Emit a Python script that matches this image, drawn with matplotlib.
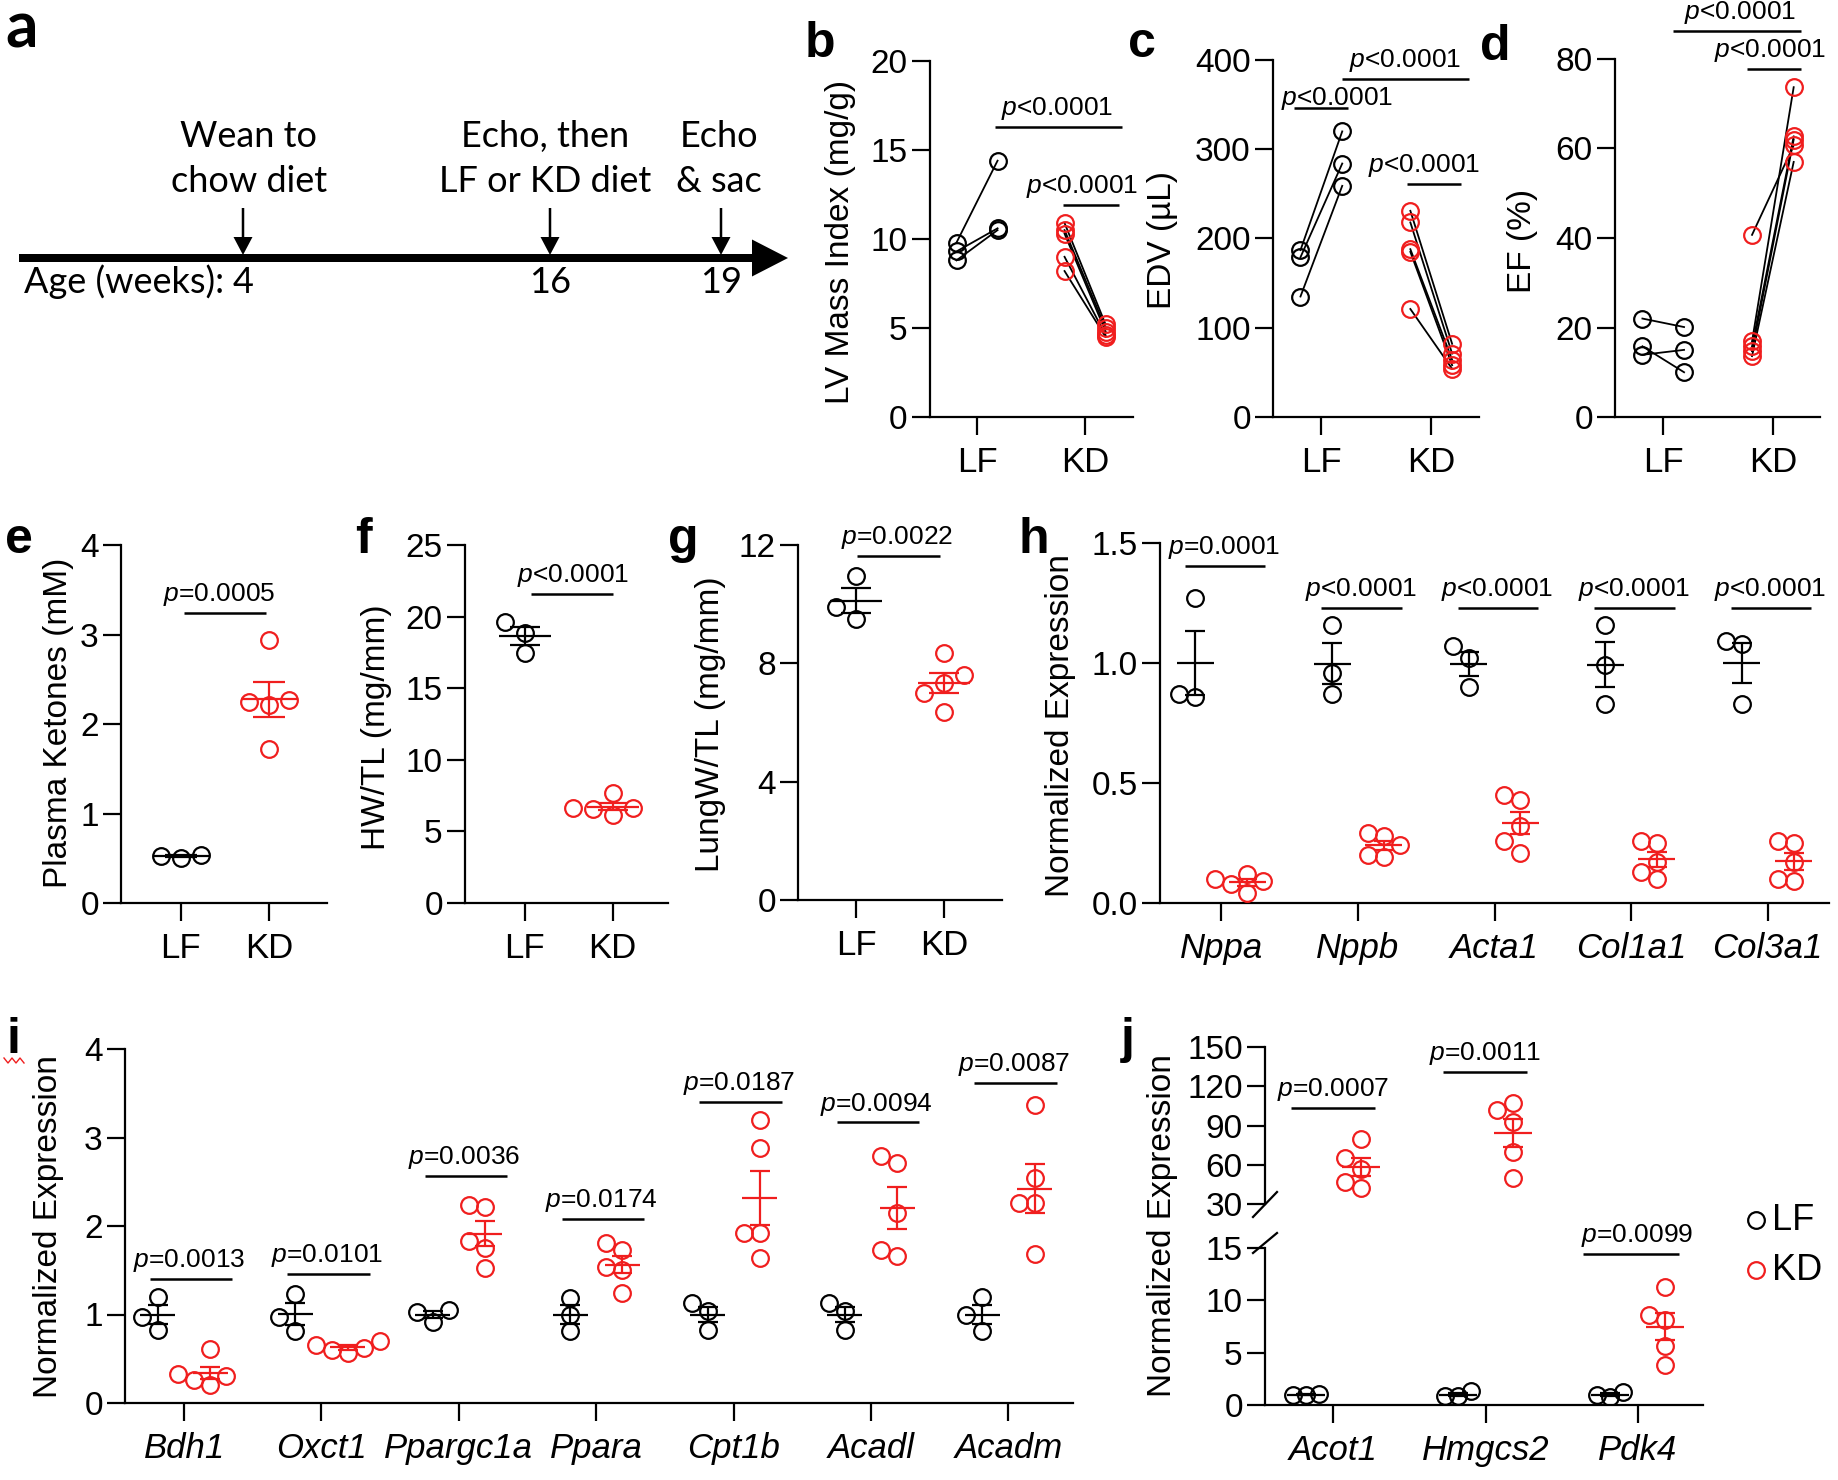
import numpy as np
import matplotlib
matplotlib.use('Agg')
import matplotlib.pyplot as plt
from matplotlib.patches import FancyArrow

plt.rcParams['font.family'] = ['Liberation Sans', 'DejaVu Sans']
plt.rcParams['mathtext.fontset'] = 'custom'
plt.rcParams['mathtext.it'] = 'Liberation Sans:italic'
plt.rcParams['mathtext.rm'] = 'Liberation Sans'
plt.rcParams['mathtext.default'] = 'regular'

W, H, DPI = 1838, 1480, 100
RED = '#f01e1e'

# ---------------- data ----------------
groups = ['LF', 'KD']
timeline_ages = ['4', '16', '19']
timeline_events = ['Wean to\nchow diet', 'Echo, then\nLF or KD diet', 'Echo\n& sac']

# b: LV mass index (pre, post) paired
b_lf_pre = [9.8, 9.3, 8.8]
b_lf_post = [14.4, 10.6, 10.5]
b_kd_pre = [10.9, 10.5, 10.3, 9.0, 8.2]
b_kd_post = [5.2, 5.0, 4.8, 4.6, 4.5]
# c: EDV
c_lf_pre = [187, 179, 135]
c_lf_post = [320, 284, 259]
c_kd_pre = [231, 218, 188, 185, 121]
c_kd_post = [82, 71, 64, 58, 54]
# d: EF
d_lf_pre = [22.0, 15.8, 13.9]
d_lf_post = [20.1, 10.0, 15.0]
d_kd_pre = [40.7, 16.9, 15.8, 14.7, 13.6]
d_kd_post = [60.7, 73.7, 62.7, 62.0, 57.0]

# e, f, g
e_lf = [0.50, 0.53, 0.54]
e_kd = [2.94, 2.27, 2.21, 2.25, 1.72]
f_lf = [19.65, 18.84, 17.44]
f_kd = [7.67, 6.16, 6.63, 6.63, 6.56]
g_lf = [10.95, 9.49, 9.92]
g_kd = [8.36, 7.32, 7.60, 6.99, 6.37]

# h
h_genes = ['Nppa', 'Nppb', 'Acta1', 'Col1a1', 'Col3a1']
h_lf = [[1.27, 0.87, 0.86], [1.16, 0.96, 0.87], [1.07, 1.02, 0.90],
        [1.16, 0.99, 0.83], [1.08, 1.09, 0.83]]
h_kd = [[0.12, 0.10, 0.09, 0.08, 0.04], [0.28, 0.29, 0.19, 0.20, 0.24],
        [0.43, 0.45, 0.32, 0.21, 0.26], [0.26, 0.25, 0.17, 0.13, 0.10],
        [0.26, 0.25, 0.17, 0.09, 0.10]]
h_pval = ['=0.0001', '<0.0001', '<0.0001', '<0.0001', '<0.0001']
h_pbar = [1.404, 1.229, 1.229, 1.229, 1.229]

# i
i_genes = ['Bdh1', 'Oxct1', 'Ppargc1a', 'Ppara', 'Cpt1b', 'Acadl', 'Acadm']
i_lf = [[1.20, 0.97, 0.83], [1.23, 0.97, 0.81], [0.92, 1.05, 1.03],
        [1.19, 1.00, 0.81], [1.13, 1.04, 0.83], [1.13, 1.04, 0.83],
        [1.20, 0.99, 0.81]]
i_kd = [[0.61, 0.33, 0.30, 0.26, 0.20], [0.70, 0.66, 0.62, 0.60, 0.56],
        [2.24, 2.22, 1.83, 1.75, 1.52], [1.81, 1.73, 1.54, 1.50, 1.24],
        [3.20, 2.88, 1.92, 1.92, 1.64], [2.79, 2.71, 2.15, 1.66, 1.73],
        [3.37, 2.54, 2.26, 2.26, 1.68]]
i_pval = ['=0.0013', '=0.0101', '=0.0036', '=0.0174', '=0.0187', '=0.0094', '=0.0087']
i_pbar = [1.40, 1.46, 2.57, 2.08, 3.40, 3.17, 3.62]

# j
j_genes = ['Acot1', 'Hmgcs2', 'Pdk4']
j_lf = [[0.95, 1.00, 1.05], [0.85, 1.30, 0.85], [0.80, 1.25, 0.95]]
j_kd = [[80, 65, 57, 47, 42], [107, 102, 93, 70, 50], [11.3, 8.6, 8.1, 5.6, 3.8]]
j_pval = ['=0.0007', '=0.0011', '=0.0099']
j_pbar = [103.6, 131.0, 14.46]

# ---------------- helpers ----------------
TICK_FS = 24
XT_FS = 25
LAB_FS = 24
P_FS = 19
MS, MEW = 12, 1.6
LW_AX = 1.6


def rect(x0, y0, x1, y1):
    return [x0 / W, 1 - y1 / H, (x1 - x0) / W, (y1 - y0) / H]


def style(ax, xlim, ylim, yticks, yticklabels=None, xticks=None, xlabels=None, italic=False):
    for s in ['top', 'right']:
        ax.spines[s].set_visible(False)
    for s in ['left', 'bottom']:
        ax.spines[s].set_linewidth(LW_AX)
    ax.patch.set_alpha(0)
    ax.set_xlim(*xlim)
    ax.set_ylim(*ylim)
    ax.set_yticks(yticks)
    if yticklabels is not None:
        ax.set_yticklabels(yticklabels)
    ax.tick_params(axis='y', length=13, width=LW_AX, pad=3, labelsize=TICK_FS)
    ax.tick_params(axis='x', length=13, width=LW_AX, pad=8, labelsize=XT_FS)
    if xticks is not None:
        ax.set_xticks(xticks)
        ax.set_xticklabels(xlabels, fontstyle='italic' if italic else 'normal')


def ptext(sym):
    return r'$\mathit{p}$' + sym


def pbar(ax, x0, x1, y, sym, xt=None, dy=8.6):
    ax.plot([x0, x1], [y, y], color='k', lw=1.8, clip_on=False, solid_capstyle='butt')
    xc = (x0 + x1) / 2 if xt is None else xt
    ax.annotate(ptext(sym), xy=(xc, y), xytext=(0, dy), textcoords='offset points',
                ha='center', va='baseline', fontsize=P_FS, annotation_clip=False)


def swarm_x(ax, xc, vals, dpx):
    tr = ax.transData
    ppu = tr.transform((1, 0))[0] - tr.transform((0, 0))[0]
    ys = [tr.transform((xc, v))[1] for v in vals]
    order = np.argsort(vals, kind='stable')
    cands = [0.0]
    for k in range(1, 8):
        cands += [-k * dpx, k * dpx]
    placed = []
    offs = np.zeros(len(vals))
    for i in order:
        for c in cands:
            if all(np.hypot(c - px, ys[i] - py) >= dpx * 0.999 for px, py in placed):
                offs[i] = c
                placed.append((c, ys[i]))
                break
    return xc + offs / ppu, ppu


def scatter_group(ax, xc, vals, color, dpx, hw_px, cw_px, clip=False):
    xs, ppu = swarm_x(ax, xc, vals, dpx)
    ax.plot(xs, vals, 'o', mfc='none', mec=color, ms=MS, mew=MEW, ls='none',
            clip_on=clip, zorder=3)
    m = np.mean(vals)
    s = np.std(vals, ddof=1) / np.sqrt(len(vals))
    hw, cw = hw_px / ppu, cw_px / ppu
    kw = dict(color=color, lw=1.6, clip_on=clip, zorder=4, solid_capstyle='butt')
    ax.plot([xc - hw, xc + hw], [m, m], **kw)
    ax.plot([xc, xc], [m - s, m + s], **kw)
    ax.plot([xc - cw, xc + cw], [m + s, m + s], **kw)
    ax.plot([xc - cw, xc + cw], [m - s, m - s], **kw)


def paired(ax, lf_pre, lf_post, kd_pre, kd_post, off=0.19):
    for gi, (pre, post, col) in enumerate([(lf_pre, lf_post, 'k'), (kd_pre, kd_post, RED)]):
        for a, b in zip(pre, post):
            ax.plot([gi - off, gi + off], [a, b], color='k', lw=1.3, zorder=2, clip_on=False)
        ax.plot([gi - off] * len(pre), pre, 'o', mfc='none', mec=col, ms=MS, mew=MEW,
                ls='none', zorder=3, clip_on=False)
        ax.plot([gi + off] * len(post), post, 'o', mfc='none', mec=col, ms=MS, mew=MEW,
                ls='none', zorder=3, clip_on=False)


fig = plt.figure(figsize=(W / DPI, H / DPI), dpi=DPI)
fig.patch.set_facecolor('white')

# overlay axes in pixel coordinates (for schematic, labels)
ov = fig.add_axes([0, 0, 1, 1], zorder=10)
ov.set_xlim(0, W)
ov.set_ylim(H, 0)
ov.axis('off')
ov.patch.set_alpha(0)

# ---------------- panel a (timeline) ----------------
tl_arrow_x = [243, 550, 721]
tl_text_x = [249, 545, 719]
ov.add_patch(FancyArrow(19, 258, 769, 0, width=8, head_width=37, head_length=36,
                        length_includes_head=True, color='k', lw=0))
for xa, xt, age, ev in zip(tl_arrow_x, tl_text_x, timeline_ages, timeline_events):
    ov.add_patch(FancyArrow(xa, 208, 0, 47, width=2.5, head_width=19, head_length=18,
                            length_includes_head=True, color='k', lw=0))
    for k, ln in enumerate(ev.split('\n')):
        ov.text(xt, 147 + 45 * k, ln, ha='center', va='baseline', fontsize=26, family='Lato')
    ov.text(xa, 293, age, ha='center', va='baseline', fontsize=26, family='Lato')
ov.text(224, 293, 'Age (weeks):', ha='right', va='baseline', fontsize=26, family='Lato')

# ---------------- row 1: b, c, d ----------------
ax_b = fig.add_axes(rect(929.5, 61, 1132.6, 417))
style(ax_b, (-0.44, 1.44), (0, 20), [0, 5, 10, 15, 20], xticks=[0, 1], xlabels=groups)
paired(ax_b, b_lf_pre, b_lf_post, b_kd_pre, b_kd_post)
pbar(ax_b, 0.17, 1.34, 16.3, '<0.0001', xt=0.74)
pbar(ax_b, 0.80, 1.31, 11.9, '<0.0001', xt=0.97)

ax_c = fig.add_axes(rect(1273, 60, 1478.5, 417))
style(ax_c, (-0.44, 1.43), (0, 400), [0, 100, 200, 300, 400], xticks=[0, 1], xlabels=groups)
paired(ax_c, c_lf_pre, c_lf_post, c_kd_pre, c_kd_post)
pbar(ax_c, 0.19, 1.34, 378.7, '<0.0001', xt=0.76)
pbar(ax_c, -0.25, 0.24, 346, '<0.0001', xt=0.14, dy=2)
pbar(ax_c, 0.78, 1.27, 261, '<0.0001', xt=0.93)

ax_d = fig.add_axes(rect(1615, 59, 1820, 417))
style(ax_d, (-0.44, 1.43), (0, 80), [0, 20, 40, 60, 80], xticks=[0, 1], xlabels=groups)
paired(ax_d, d_lf_pre, d_lf_post, d_kd_pre, d_kd_post)
pbar(ax_d, 0.09, 1.26, 86.3, '<0.0001', xt=0.70)
pbar(ax_d, 0.76, 1.26, 77.8, '<0.0001', xt=0.97)

# ---------------- row 2: e, f, g, h ----------------
ax_e = fig.add_axes(rect(121, 545, 327, 903))
style(ax_e, (-0.68, 1.66), (0, 4), [0, 1, 2, 3, 4], xticks=[0, 1], xlabels=groups)
scatter_group(ax_e, 0, e_lf, 'k', 20, 28, 16)
scatter_group(ax_e, 1, e_kd, RED, 20, 28, 16)
pbar(ax_e, 0.03, 0.97, 3.24, '=0.0005', xt=0.43)

ax_f = fig.add_axes(rect(465, 545, 668, 903))
style(ax_f, (-0.68, 1.63), (0, 25), [0, 5, 10, 15, 20, 25], xticks=[0, 1], xlabels=groups)
scatter_group(ax_f, 0, f_lf, 'k', 20, 26, 15)
scatter_group(ax_f, 1, f_kd, RED, 20, 26, 15)
pbar(ax_f, 0.07, 1.0, 21.6, '<0.0001', xt=0.55)

ax_g = fig.add_axes(rect(798, 545, 1002, 900))
style(ax_g, (-0.66, 1.66), (0, 12), [0, 4, 8, 12], xticks=[0, 1], xlabels=groups)
scatter_group(ax_g, 0, g_lf, 'k', 20, 26, 15)
scatter_group(ax_g, 1, g_kd, RED, 20, 26, 15)
pbar(ax_g, 0.01, 0.95, 11.63, '=0.0022', xt=0.47)

ax_h = fig.add_axes(rect(1160, 543, 1829, 903))
style(ax_h, (-0.45, 4.45), (0, 1.5), [0, 0.5, 1.0, 1.5], ['0.0', '0.5', '1.0', '1.5'],
      xticks=list(range(len(h_genes))), xlabels=h_genes, italic=True)
for gi, (lf, kd) in enumerate(zip(h_lf, h_kd)):
    scatter_group(ax_h, gi - 0.19, lf, 'k', 16, 18.5, 10)
    scatter_group(ax_h, gi + 0.19, kd, RED, 16, 18.5, 10)
    pbar(ax_h, gi - 0.27, gi + 0.32, h_pbar[gi], h_pval[gi], xt=gi + 0.02)

# ---------------- row 3: i, j ----------------
ax_i = fig.add_axes(rect(125, 1049, 1073, 1403))
style(ax_i, (-0.43, 6.47), (0, 4), [0, 1, 2, 3, 4],
      xticks=list(range(len(i_genes))), xlabels=i_genes, italic=True)
for gi, (lf, kd) in enumerate(zip(i_lf, i_kd)):
    scatter_group(ax_i, gi - 0.19, lf, 'k', 16, 17.5, 10)
    scatter_group(ax_i, gi + 0.19, kd, RED, 16, 17.5, 10)
    pbar(ax_i, gi - 0.25, gi + 0.35, i_pbar[gi], i_pval[gi], xt=gi + 0.04)

J_TOP = (1265, 1047, 1703, 1204)
J_BOT = (1265, 1248, 1703, 1405)
ax_jt = fig.add_axes(rect(*J_TOP))
ax_jb = fig.add_axes(rect(*J_BOT))
style(ax_jt, (-0.45, 2.43), (30, 150), [30, 60, 90, 120, 150])
ax_jt.spines['bottom'].set_visible(False)
ax_jt.tick_params(axis='x', bottom=False, labelbottom=False)
style(ax_jb, (-0.45, 2.43), (0, 15), [0, 5, 10, 15],
      xticks=list(range(len(j_genes))), xlabels=j_genes, italic=True)
for gi, (lf, kd) in enumerate(zip(j_lf, j_kd)):
    scatter_group(ax_jb, gi - 0.18, lf, 'k', 13, 19, 10, clip=True)
    kd_ax = ax_jb if max(kd) <= 15 else ax_jt
    scatter_group(kd_ax, gi + 0.18, kd, RED, 16, 19, 10, clip=True)
    pax = ax_jb if j_pbar[gi] <= 15 else ax_jt
    lo = -0.36 if gi == 2 else -0.28
    pbar(pax, gi + lo, gi + 0.27, j_pbar[gi], j_pval[gi], xt=gi)

# axis break marks
for (xs, ys) in [((J_TOP[0] - 12, J_TOP[0] + 12), (J_TOP[3] + 13, J_TOP[3] - 12)),
                 ((J_BOT[0] - 12, J_BOT[0] + 12), (J_BOT[1] + 5, J_BOT[1] - 15))]:
    ov.plot(xs, ys, color='k', lw=LW_AX)

# legend for j
for yy, lab, col in [(1220, 'LF', 'k'), (1270, 'KD', RED)]:
    ov.plot([1756], [yy], 'o', mfc='none', mec=col, ms=MS, mew=MEW)
    ov.text(1772, yy, lab, ha='left', va='center', fontsize=26)

# ---------------- y labels ----------------
ylabels = [
    (840, 242, 'LV Mass Index (mg/g)'),
    (1162, 240, 'EDV (\u00b5L)'),
    (1523, 241, 'EF (%)'),
    (59, 723, 'Plasma Ketones (mM)'),
    (377, 727, 'HW/TL (mg/mm)'),
    (710, 724, 'LungW/TL (mg/mm)'),
    (1061, 726, 'Normalized Expression'),
    (49, 1227, 'Normalized Expression'),
    (1163, 1226, 'Normalized Expression'),
]
for x, y, t in ylabels:
    ov.text(x, y, t, rotation=90, ha='center', va='center', fontsize=LAB_FS)

# ---------------- panel letters ----------------
ov.text(5, 48, 'a', fontsize=46, fontweight='bold', family='Lato', ha='left', va='baseline')
letters = [('b', 805, 57), ('c', 1128, 57), ('d', 1480, 60),
           ('e', 5, 553), ('f', 355, 553), ('g', 668, 553), ('h', 1019, 553),
           ('i', 7, 1053), ('j', 1121, 1053)]
for t, x, y in letters:
    ov.text(x, y, t, fontsize=36, fontweight='bold', ha='left', va='baseline')
# small red mark under "i" (as in the source image)
ov.plot([4, 8, 12, 16, 20, 24], [1058, 1063, 1058, 1063, 1058, 1063], color=RED, lw=1)

fig.savefig('out.png', dpi=DPI)
